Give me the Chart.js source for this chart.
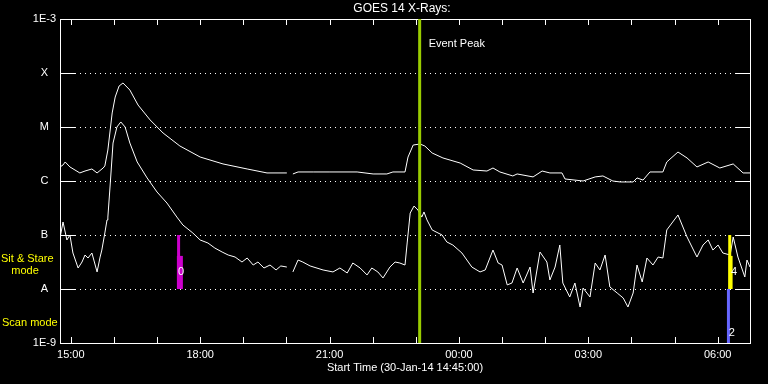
<!DOCTYPE html>
<html>
<head>
<meta charset="utf-8">
<script src="https://cdn.jsdelivr.net/npm/chart.js@4.4.1/dist/chart.umd.min.js"></script>
<style>
  html, body { margin: 0; padding: 0; background: #000; }
  canvas { display: block; background: #000; }
</style>
</head>
<body>
<canvas id="goesChart" width="768" height="384"></canvas>
<script>
// GOES 14 X-ray flux, times in hours from 30-Jan-14 00:00 (24+ = next day)
const longTime = [14.75,14.82,14.87,14.98,15.21,15.33,15.49,15.61,15.75,15.79,15.86,15.96,16.03,16.12,16.21,16.28,16.37,16.56,16.84,17.14,17.53,18.00,18.53,19.09,19.55,20.01,20.08,20.15,20.27,20.62,21.01,21.64,22.01,22.33,22.47,22.75,22.82,22.94,23.10,23.21,23.38,23.63,24.03,24.33,24.65,24.79,24.95,25.25,25.35,25.72,25.93,26.11,26.39,26.46,26.88,27.16,27.34,27.57,27.74,28.04,28.13,28.27,28.43,28.73,28.82,29.08,29.29,29.52,29.78,30.05,30.36,30.59,30.75];
const longFlux = [1.82e-6,1.98e-6,2.25e-6,1.82e-6,1.41e-6,1.53e-6,1.67e-6,1.41e-6,1.74e-6,1.90e-6,3.75e-6,1.82e-5,3.59e-5,5.74e-5,6.52e-5,5.74e-5,4.84e-5,2.55e-5,1.35e-5,7.74e-6,4.45e-6,2.78e-6,2.07e-6,1.67e-6,1.41e-6,1.41e-6,null,1.35e-6,1.47e-6,1.47e-6,1.47e-6,1.47e-6,1.35e-6,1.35e-6,1.47e-6,1.47e-6,2.78e-6,4.64e-6,4.84e-6,4.45e-6,3.30e-6,2.67e-6,2.15e-6,1.60e-6,1.53e-6,1.74e-6,1.47e-6,1.24e-6,1.35e-6,1.19e-6,1.53e-6,1.41e-6,1.41e-6,1.09e-6,1.00e-6,1.19e-6,1.24e-6,1.00e-6,9.6e-7,9.6e-7,1.14e-6,1.04e-6,1.47e-6,1.47e-6,2.25e-6,3.44e-6,2.67e-6,1.82e-6,2.25e-6,1.74e-6,2.07e-6,1.41e-6,1.41e-6];

const shortTime = [14.75,14.82,14.91,14.98,15.05,15.17,15.26,15.33,15.40,15.49,15.61,15.68,15.72,15.79,15.84,15.86,15.91,15.98,16.07,16.16,16.26,16.37,16.54,16.77,17.00,17.23,17.46,17.60,17.83,18.00,18.18,18.34,18.51,18.65,18.81,18.97,19.09,19.23,19.34,19.48,19.62,19.76,19.87,20.01,20.08,20.15,20.27,20.38,20.55,20.85,21.08,21.24,21.41,21.54,21.71,21.87,21.98,22.12,22.24,22.40,22.52,22.63,22.75,22.80,22.87,22.96,23.05,23.14,23.19,23.26,23.38,23.61,23.72,23.86,24.07,24.30,24.49,24.61,24.79,24.91,25.00,25.12,25.23,25.35,25.49,25.65,25.72,25.88,26.04,26.11,26.23,26.34,26.41,26.57,26.69,26.81,26.88,27.04,27.16,27.27,27.39,27.50,27.67,27.81,27.92,28.04,28.13,28.25,28.36,28.50,28.62,28.73,28.82,29.08,29.29,29.52,29.66,29.78,29.89,30.01,30.12,30.29,30.36,30.47,30.63,30.68,30.75];
const shortFlux = [8.8e-8,1.74e-7,8.08e-8,1.0e-7,4.64e-8,2.45e-8,3.16e-8,4.26e-8,3.75e-8,4.64e-8,2.07e-8,3.91e-8,5.27e-8,1.09e-7,1.9e-7,2.15e-7,7.74e-7,5.05e-6,1.0e-5,1.24e-5,1.0e-5,5.05e-6,2.25e-6,1.14e-6,6.25e-7,3.91e-7,2.15e-7,1.53e-7,1.09e-7,8.08e-8,7.11e-8,5.74e-8,4.84e-8,4.26e-8,3.91e-8,3.16e-8,3.75e-8,2.78e-8,3.16e-8,2.45e-8,2.78e-8,2.25e-8,2.67e-8,2.55e-8,null,2.07e-8,3.44e-8,3.16e-8,2.67e-8,2.25e-8,2.07e-8,2.45e-8,1.98e-8,3.03e-8,2.45e-8,1.82e-8,2.45e-8,2.07e-8,1.6e-8,2.55e-8,3.16e-8,3.03e-8,2.78e-8,7.11e-8,2.55e-7,3.44e-7,2.9e-7,2.15e-7,2.67e-7,1.9e-7,1.24e-7,1.0e-7,7.42e-8,6.52e-8,4.64e-8,2.55e-8,2.07e-8,2.25e-8,5.27e-8,3.03e-8,2.78e-8,1.19e-8,1.29e-8,2.45e-8,1.29e-8,2.55e-8,8.43e-9,4.84e-8,3.16e-8,1.47e-8,2.55e-8,6.52e-8,1.29e-8,7.11e-9,1.29e-8,4.64e-9,1.04e-8,7.11e-9,3.03e-8,2.25e-8,4.26e-8,1.09e-8,8.43e-9,6.81e-9,4.64e-9,8.43e-9,2.78e-8,1.35e-8,3.75e-8,2.78e-8,3.91e-8,3.75e-8,1.24e-7,2.35e-7,9.18e-8,3.91e-8,6.52e-8,8.08e-8,5.27e-8,6.52e-8,4.64e-8,4.26e-8,9.18e-8,3.91e-8,1.67e-8,3.44e-8,2.55e-8];

// axis ticks
const decadeTicks = [1e-9, 1e-8, 1e-7, 1e-6, 1e-5, 1e-4, 1e-3];
const decadeLabels = ["1E-9", "A", "B", "C", "M", "X", "1E-3"];
const hourTicks = [15,16,17,18,19,20,21,22,23,24,25,26,27,28,29,30];
const timeMin = 14.75, timeMax = 30.75;

// event peak and mode markers
const eventPeak = 23.09;
const sitStareNarrow = [17.50, 30.28];   // full B..A span
const sitStareWide = [17.53, 30.30];     // lower part
const sitStareWideTop = 4.1e-8;
const scanTime = [30.25];
const modeNumbers = [
  { x: 17.56, y: 2.07e-8, text: "0" },
  { x: 30.38, y: 2.07e-8, text: "4" },
  { x: 30.33, y: 1.53e-9, text: "2" }
];

const FONT = "'Liberation Sans', Arial, sans-serif";
const tickFont = { family: FONT, size: 11 };

function vbar(t, lo, hi) {
  return [{ x: t, y: lo }, { x: t, y: hi }];
}
function pad2(n) { return (n < 10 ? "0" : "") + n; }

const datasets = [
  { data: vbar(eventPeak, 1e-9, 1e-3), borderColor: "#99cc00", borderWidth: 3, order: 0 },
  { data: vbar(sitStareNarrow[0], 1e-8, 1e-7), borderColor: "#cc00cc", borderWidth: 3, order: 1 },
  { data: vbar(sitStareWide[0], 1e-8, sitStareWideTop), borderColor: "#cc00cc", borderWidth: 6, order: 1 },
  { data: vbar(sitStareNarrow[1], 1e-8, 1e-7), borderColor: "#ffff00", borderWidth: 3, order: 1 },
  { data: vbar(sitStareWide[1], 1e-8, sitStareWideTop), borderColor: "#ffff00", borderWidth: 4, order: 1 },
  { data: vbar(scanTime[0], 1e-9, 1e-8), borderColor: "#6666ff", borderWidth: 3, order: 1 },
  { data: longTime.map((t, i) => ({ x: t, y: longFlux[i] })), borderColor: "#ffffff", borderWidth: 1, order: 2 },
  { data: shortTime.map((t, i) => ({ x: t, y: shortFlux[i] })), borderColor: "#ffffff", borderWidth: 1, order: 2 }
];
datasets.forEach(d => { d.pointRadius = 0; d.tension = 0; d.spanGaps = false; d.fill = false; });

// frame, dotted grid, inward ticks and text labels
const framePlugin = {
  id: "frame",
  beforeDatasetsDraw(chart) {
    const { ctx, chartArea: a, scales: { x, y } } = chart;
    ctx.save();
    ctx.strokeStyle = "#fff";
    ctx.lineWidth = 1;
    decadeTicks.slice(1, -1).forEach(v => {
      const py = Math.round(y.getPixelForValue(v)) + 0.5;
      ctx.setLineDash([1, 4]);
      ctx.beginPath(); ctx.moveTo(a.left + 15, py); ctx.lineTo(a.right - 14, py); ctx.stroke();
      ctx.setLineDash([]);
      ctx.beginPath(); ctx.moveTo(a.left, py); ctx.lineTo(a.left + 15, py);
      ctx.moveTo(a.right - 14, py); ctx.lineTo(a.right, py); ctx.stroke();
    });
    hourTicks.forEach(h => {
      const px = Math.round(x.getPixelForValue(h)) + 0.5;
      ctx.beginPath();
      ctx.moveTo(px, a.top); ctx.lineTo(px, a.top + 6);
      ctx.moveTo(px, a.bottom); ctx.lineTo(px, a.bottom - 6);
      ctx.stroke();
    });
    ctx.strokeRect(Math.round(a.left) + 0.5, Math.round(a.top) + 0.5,
      Math.round(a.right - a.left), Math.round(a.bottom - a.top));
    ctx.restore();
  },
  afterDraw(chart) {
    const { ctx, chartArea: a, scales: { x, y } } = chart;
    ctx.save();
    ctx.textBaseline = "middle";
    ctx.fillStyle = "#fff";
    ctx.textAlign = "center";
    ctx.font = "12px " + FONT;
    ctx.fillText("GOES 14 X-Rays:", (a.left + a.right) / 2 - 3, 9);
    ctx.font = "11px " + FONT;
    ctx.textAlign = "left";
    ctx.fillText("Event Peak", x.getPixelForValue(eventPeak) + 9, a.top + 25);
    ctx.textAlign = "center";
    modeNumbers.forEach(m => ctx.fillText(m.text, x.getPixelForValue(m.x), y.getPixelForValue(m.y)));
    ctx.fillStyle = "#ffff00";
    ctx.textAlign = "left";
    ctx.fillText("Sit & Stare", 1, 259);
    ctx.textAlign = "center";
    ctx.fillText("mode", 25, 271);
    ctx.textAlign = "left";
    ctx.fillText("Scan mode", 2, 323);
    ctx.restore();
  }
};

new Chart(document.getElementById("goesChart"), {
  type: "line",
  data: { datasets },
  options: {
    responsive: false,
    animation: false,
    events: [],
    layout: { padding: { left: 0, right: 18, top: 19, bottom: 0 } },
    plugins: {
      legend: { display: false },
      tooltip: { enabled: false },
      title: { display: false }
    },
    scales: {
      x: {
        type: "linear",
        min: timeMin,
        max: timeMax,
        afterBuildTicks: s => { s.ticks = hourTicks.map(v => ({ value: v })); },
        afterFit: s => { s.height = 41; },
        grid: { display: false, drawTicks: false },
        border: { display: false },
        ticks: {
          color: "#fff",
          font: tickFont,
          padding: 5,
          maxRotation: 0,
          autoSkip: false,
          callback: v => (v % 3 === 0 ? pad2(v % 24) + ":00" : "")
        },
        title: {
          display: true,
          text: "Start Time (30-Jan-14 14:45:00)",
          color: "#fff",
          font: tickFont,
          padding: { top: 0, bottom: 9 }
        }
      },
      y: {
        type: "logarithmic",
        min: 1e-9,
        max: 1e-3,
        afterBuildTicks: s => { s.ticks = decadeTicks.map(v => ({ value: v })); },
        afterFit: s => { s.width = 60; },
        grid: { display: false, drawTicks: false },
        border: { display: false },
        ticks: {
          color: "#fff",
          font: tickFont,
          crossAlign: "center",
          padding: 4,
          autoSkip: false,
          callback: (v, i) => decadeLabels[i]
        }
      }
    }
  },
  plugins: [framePlugin]
});
</script>
</body>
</html>
